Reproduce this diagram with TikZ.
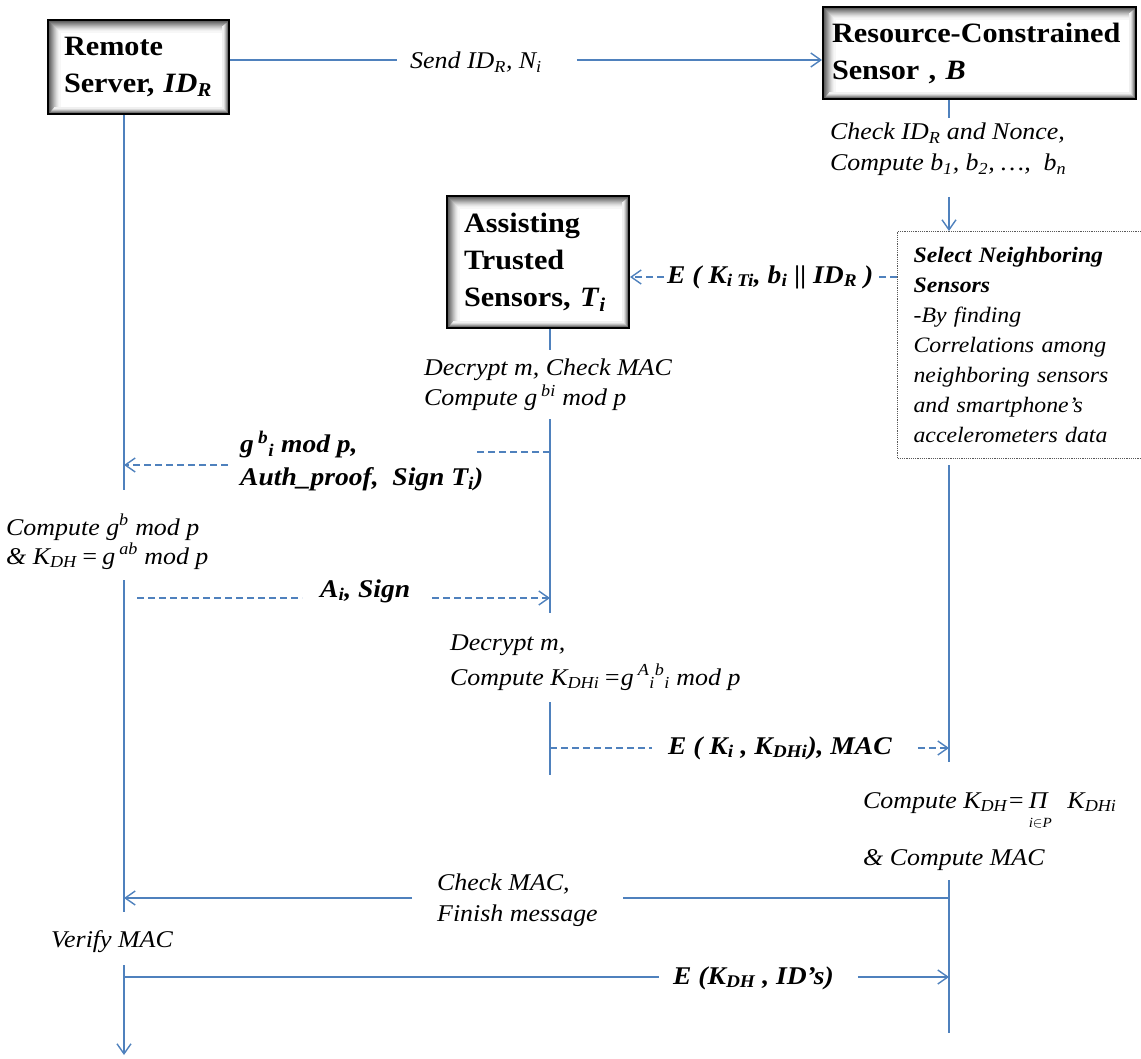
\documentclass[tikz,border=0pt]{standalone}
\usepackage{fontspec}
\setmainfont{Liberation Serif}[FakeStretch=1.08]
\usetikzlibrary{arrows.meta}
\definecolor{flow}{RGB}{79,129,189}
\newcommand\fntTitle{\fontsize{28}{37}\selectfont\bfseries}
\newcommand\fntNote{\fontsize{24}{31}\selectfont\itshape}
\newcommand\fntMsg{\fontsize{25.5}{33}\selectfont\bfseries\itshape}
\newcommand\fntSel{\fontsize{22}{30}\selectfont\itshape}
\begin{document}
\begin{tikzpicture}[x=1pt,y=-1pt,
  lane/.style={draw=flow, line width=1.4pt},
  tip/.style={-{Straight Barb[length=10pt,width=14pt]}},
  msg/.style={lane, tip},
  dmsg/.style={lane, dash pattern=on 7pt off 4pt},
  titlebox/.style={draw=black, line width=2pt, fill=white, anchor=north west,
    align=left, font=\fntTitle, inner ysep=0pt,
    path picture={
      % soft inner shadow: strong along the top and left edges
      \foreach \k/\c in {2/62,3/55,4/48,5/41,6/34,7/27,8/21,9/15,10/10,11/6,12/3}{
        \draw[black!\c, line width=1.1pt]
          ([xshift=\k]path picture bounding box.south west)
          -- ([xshift=\k,yshift=-\k]path picture bounding box.north west)
          -- ([yshift=-\k]path picture bounding box.north east);
      }
      % and a thinner one along the right and bottom edges
      \foreach \k/\c in {2/55,3/40,4/26,5/14,6/6}{
        \draw[black!\c, line width=1.1pt]
          ([xshift=-\k,yshift=-\k]path picture bounding box.north east)
          -- ([xshift=-\k,yshift=\k]path picture bounding box.south east)
          -- ([xshift=\k,yshift=\k]path picture bounding box.south west);
      }
    }},
  selbox/.style={draw=black!65, densely dotted, line width=1.2pt, fill=white, anchor=north west,
    align=left, font=\fntSel, inner ysep=0pt},
  note/.style={font=\fntNote, anchor=base west, inner sep=0pt},
  lbl/.style={font=\fntNote, anchor=west, inner ysep=2pt, align=left},
  mlbl/.style={font=\fntMsg, anchor=west, inner ysep=2pt, align=left}
]
\useasboundingbox (0,0) rectangle (1141,1059);

% participants
\node[titlebox, minimum width=181pt, minimum height=94pt, inner xsep=16pt, text width=149pt]
  (srv) at (47,19) {Remote\\Server, \textit{ID}\textsubscript{\textit{R}}};
\node[titlebox, minimum width=313pt, minimum height=92pt, inner xsep=9pt, text width=295pt]
  (rcs) at (822,6) {Resource-Constrained\\Sensor , \textit{B}};
\node[titlebox, minimum width=182pt, minimum height=132pt, inner xsep=17pt, text width=148pt]
  (ats) at (446,195) {Assisting\\Trusted\\Sensors, \textit{T}\textsubscript{\textit{i}}};
\node[selbox, minimum width=270pt, minimum height=227pt, inner xsep=16pt, text width=238pt]
  (sel) at (897,231) {\textbf{Select Neighboring}\\\textbf{Sensors}\\-By finding\\Correlations among\\neighboring sensors\\and smartphone’s\\accelerometers data};

% lifeline positions
\coordinate (L) at (124,0);
\coordinate (M) at (550,0);
\coordinate (R) at (949,0);

% local computations
\node[note] (chk1) at (830,140) {Check ID\textsubscript{R} and Nonce,};
\node[note] (chk2) at (830,171) {Compute b\textsubscript{1}, b\textsubscript{2}, …,\ \ b\textsubscript{n}};
\node[note] (dec1) at (424,375) {Decrypt m, Check MAC};
\node[note] (dec2) at (424,406) {Compute g\,\textsuperscript{bi} mod p};
\node[note] (gb1) at (6,535) {Compute g\textsuperscript{b} mod p};
\node[note] (gb2) at (6,564) {\& K\textsubscript{DH}\,=\,g\,\textsuperscript{ab} mod p};
\node[note] (dec3) at (450,650) {Decrypt m,};
\node[note] (dec4) at (450,685) {Compute K\textsubscript{DHi}\,=g\,\textsuperscript{A}\textsubscript{i}\textsuperscript{b}\textsubscript{i} mod p};
\node[note] (kdh1) at (863,808) {Compute K\textsubscript{DH}=\,\rlap{\raisebox{-19pt}{\fontsize{14}{14}\selectfont i$\in$P}}Π\hspace{20pt}K\textsubscript{DHi}};
\node[note] (kdh2) at (863,865) {\& Compute MAC};
\node[note] (ver) at (51,947) {Verify MAC};

% lifelines
\draw[lane] (srv.south -| L) -- (L |- 0,490);
\draw[lane] (L |- 0,580) -- (L |- 0,912);
\draw[lane, tip] (L |- 0,965) -- (L |- 0,1055);
\draw[lane] (ats.south -| M) -- (M |- 0,350);
\draw[lane] (M |- 0,419) -- (M |- 0,613);
\draw[lane] (M |- 0,702) -- (M |- 0,775);
\draw[lane] (rcs.south -| R) -- (R |- 0,118);
\draw[lane, tip] (R |- 0,197) -- (sel.north -| R);
\draw[lane] (R |- 0,465) -- (R |- 0,762);
\draw[lane] (R |- 0,880) -- (R |- 0,1033);

% message labels
\node[lbl, inner xsep=13pt] (send) at (397,62) {Send ID\textsubscript{R}, N\textsubscript{i}\hspace{22pt}};
\node[mlbl, inner xsep=3pt] (e1) at (664,277) {E ( K\textsubscript{i Ti}, b\textsubscript{i} || ID\textsubscript{R} )};
\node[mlbl, inner xsep=12pt] (gbl) at (228,461) {g\,\textsuperscript{b}\textsubscript{i} mod p,\\Auth\_proof,\ \ Sign T\textsubscript{i})};
\node[mlbl, inner xsep=18pt] (ai) at (302,591) {A\textsubscript{i}, Sign\hspace{4pt}};
\node[mlbl, inner xsep=16pt] (e2) at (652,748) {E ( K\textsubscript{i} , K\textsubscript{DHi}), MAC\hspace{10pt}};
\node[lbl, inner xsep=25pt] (fin) at (412,900) {Check MAC,\\Finish message};
\node[mlbl, inner xsep=14pt] (e3) at (659,978) {E (K\textsubscript{DH} , ID’s)\hspace{10pt}};

% message end points on the lifelines
\coordinate (sendy) at (0,60);
\coordinate (gbtop) at (475,452);
\coordinate (gby) at (0,465);
\coordinate (aistart) at (137,598);
\coordinate (e2y) at (0,748);
\coordinate (finy) at (0,898);
\coordinate (e3y) at (0,977);

% messages
\draw[lane] (srv.east |- sendy) -- (send.west |- sendy);
\draw[msg] (send.east |- sendy) -- (rcs.west |- sendy);
\draw[dmsg] (sel.west |- e1) -- (e1.east);
\draw[dmsg, tip] (e1.west) -- (ats.east |- e1);
\draw[dmsg] (M |- gbtop) -- (gbtop);
\draw[dmsg, tip] (gbl.west |- gby) -- (L |- gby);
\draw[dmsg] (aistart) -- (ai.west |- aistart);
\draw[dmsg, tip] (ai.east |- aistart) -- (M |- aistart);
\draw[dmsg] (M |- e2y) -- (e2.west |- e2y);
\draw[dmsg, tip] (e2.east |- e2y) -- (R |- e2y);
\draw[lane] (R |- finy) -- (fin.east |- finy);
\draw[msg] (fin.west |- finy) -- (L |- finy);
\draw[lane] (L |- e3y) -- (e3.west |- e3y);
\draw[msg] (e3.east |- e3y) -- (R |- e3y);
\end{tikzpicture}
\end{document}
